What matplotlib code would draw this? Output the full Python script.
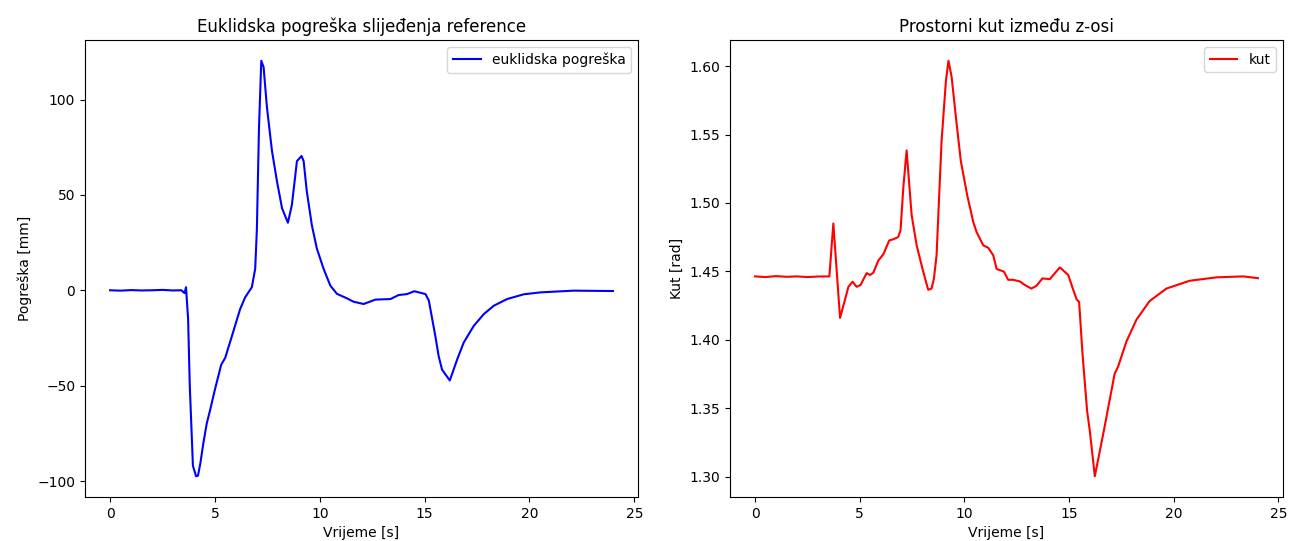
import matplotlib
matplotlib.use("Agg")
from matplotlib import pyplot

# Euklidska pogreška (vrijeme [s], pogreška [mm])
t_err = [0.0, 0.5, 1.0, 1.5, 2.0, 2.5, 3.0, 3.4, 3.55, 3.62, 3.72, 3.8, 3.95, 4.1, 4.19, 4.3,
         4.45, 4.61, 4.77, 5.0, 5.3, 5.49, 5.81, 6.2, 6.44, 6.76, 6.92, 7.0, 7.1, 7.21, 7.32,
         7.48, 7.72, 7.96, 8.2, 8.48, 8.67, 8.91, 9.13, 9.23, 9.38, 9.62, 9.86, 10.18, 10.5,
         10.82, 11.29, 11.61, 12.09, 12.65, 13.37, 13.76, 14.16, 14.51, 15.04, 15.2, 15.51,
         15.67, 15.83, 16.2, 16.55, 16.86, 17.34, 17.82, 18.3, 18.93, 19.73, 20.53, 22.1, 23.98]
err = [0.0, -0.2, 0.1, -0.1, 0.0, 0.2, -0.1, 0.0, -1.5, 1.6, -15.0, -50.0, -92.0, -97.5, -97.2,
       -91.0, -80.0, -69.8, -62.8, -52.0, -39.0, -35.4, -24.0, -9.9, -3.7, 1.6, 11.3, 32.0, 85.0,
       120.3, 117.0, 95.9, 73.0, 57.0, 43.0, 35.4, 44.8, 67.7, 70.4, 67.7, 51.9, 34.2, 21.9,
       11.3, 2.5, -1.9, -4.2, -6.0, -7.2, -4.9, -4.6, -2.5, -2.0, -0.5, -2.0, -5.4, -24.0,
       -34.6, -41.6, -47.3, -36.3, -27.5, -18.7, -12.5, -8.1, -4.6, -2.1, -1.1, -0.2, -0.4]

# Prostorni kut (vrijeme [s], kut [rad])
t_kut = [0.0, 0.5, 1.0, 1.5, 2.0, 2.5, 3.0, 3.55, 3.74, 4.06, 4.3, 4.46, 4.66, 4.85, 5.04, 5.33,
         5.49, 5.65, 5.89, 6.13, 6.41, 6.6, 6.84, 6.95, 7.08, 7.24, 7.48, 7.72, 8.0, 8.27, 8.43,
         8.54, 8.67, 8.91, 9.12, 9.24, 9.39, 9.63, 9.83, 10.13, 10.42, 10.58, 10.9, 11.14, 11.38,
         11.54, 11.89, 12.09, 12.33, 12.65, 12.89, 13.2, 13.44, 13.73, 14.08, 14.56, 14.96, 15.19,
         15.36, 15.48, 15.64, 15.86, 15.99, 16.23, 16.63, 17.18, 17.34, 17.74, 18.22, 18.85,
         19.65, 20.76, 22.04, 23.31, 24.02]
kut = [1.4463, 1.4458, 1.4465, 1.446, 1.4463, 1.4458, 1.4462, 1.4463, 1.485, 1.416, 1.4295,
       1.4387, 1.4424, 1.4387, 1.44, 1.4487, 1.4473, 1.449, 1.4579, 1.4625, 1.4726, 1.4734,
       1.4751, 1.48, 1.5108, 1.5384, 1.4911, 1.469, 1.4517, 1.4365, 1.4374, 1.4443, 1.4616,
       1.5453, 1.5897, 1.6039, 1.5921, 1.5577, 1.5305, 1.506, 1.4862, 1.4788, 1.469, 1.4672,
       1.4616, 1.4517, 1.4498, 1.4438, 1.4438, 1.4426, 1.44, 1.4374, 1.4394, 1.4448, 1.4443,
       1.4529, 1.4473, 1.4369, 1.4295, 1.4276, 1.3901, 1.3482, 1.3334, 1.3002, 1.331, 1.3753,
       1.3803, 1.3987, 1.4147, 1.4283, 1.4374, 1.4431, 1.4456, 1.4463, 1.445]

fig, (ax1, ax2) = pyplot.subplots(1, 2, figsize=(12.93, 5.41), dpi=100)
fig.subplots_adjust(left=0.0657, right=0.9923, top=0.926, bottom=0.0813, wspace=0.166)

# Lijevi graf
ax1.plot(t_err, err, color='blue', label='euklidska pogreška')
ax1.set_title('Euklidska pogreška slijeđenja reference')
ax1.set_xlabel('Vrijeme [s]')
ax1.set_ylabel('Pogreška [mm]')
ax1.legend(loc='upper right')

# Desni graf
ax2.plot(t_kut, kut, color='red', label='kut')
ax2.set_title('Prostorni kut između z-osi')
ax2.set_xlabel('Vrijeme [s]')
ax2.set_ylabel('Kut [rad]')
ax2.legend(loc='upper right')

fig.savefig('out.png')
